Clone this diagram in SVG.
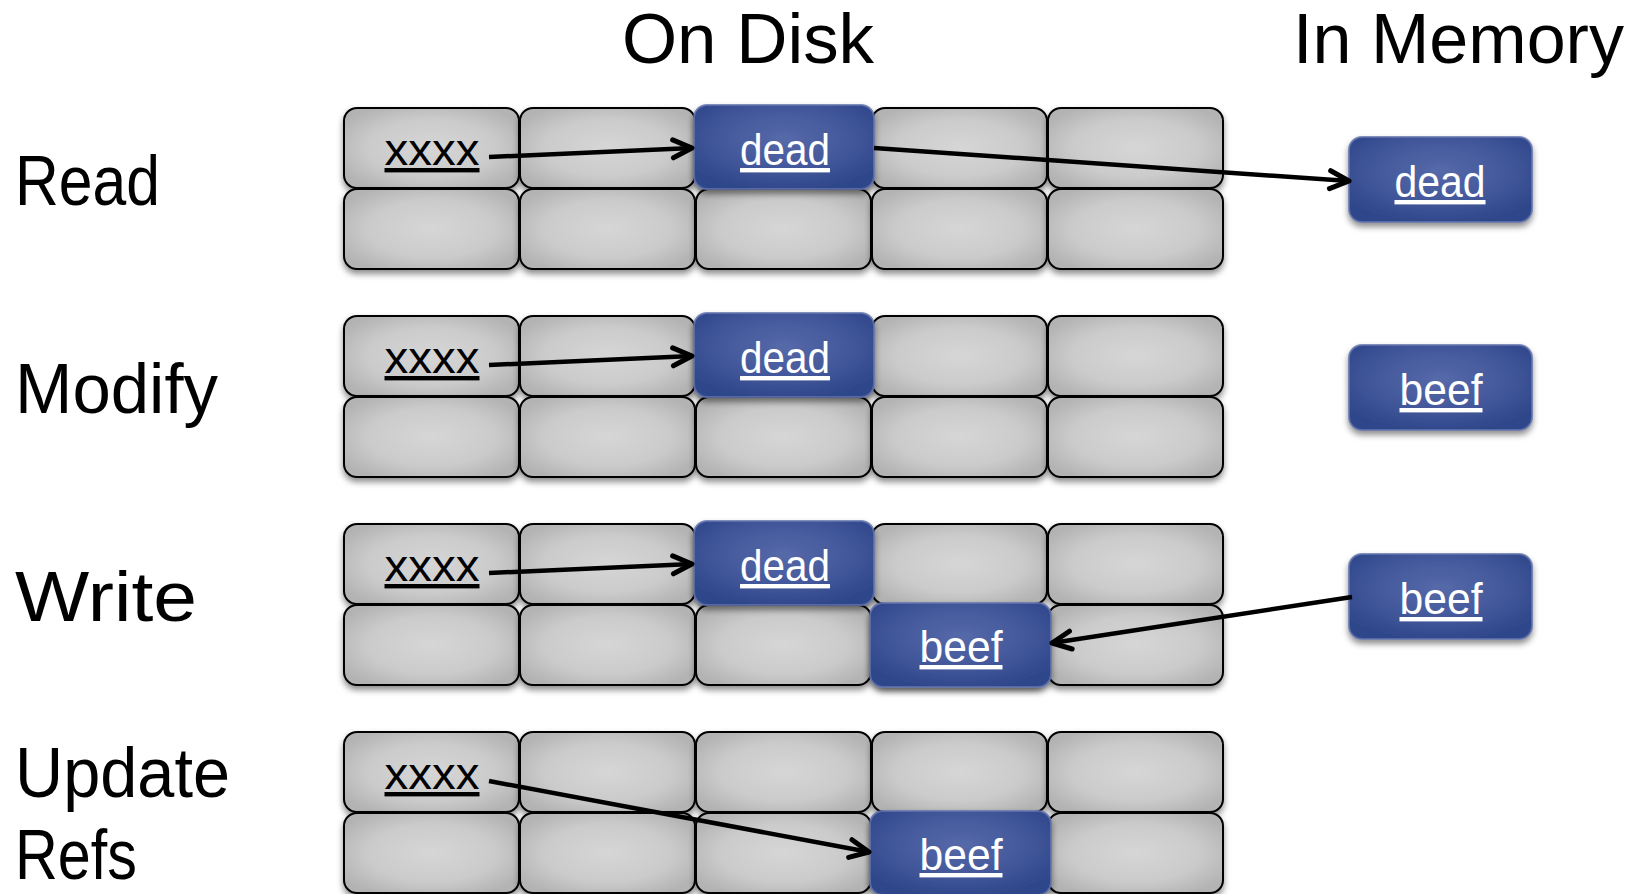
<svg xmlns="http://www.w3.org/2000/svg" width="1645" height="894" viewBox="0 0 1645 894">
<defs>
<radialGradient id="gGray" cx="50%" cy="50%" r="60%">
<stop offset="0" stop-color="#d6d6d6"/>
<stop offset="0.6" stop-color="#cbcbcb"/>
<stop offset="1" stop-color="#b3b3b3"/>
</radialGradient>
<radialGradient id="gBlue" cx="50%" cy="40%" r="62%">
<stop offset="0" stop-color="#5669a9"/>
<stop offset="0.6" stop-color="#42579a"/>
<stop offset="1" stop-color="#2f478b"/>
</radialGradient>
<filter id="sh" x="-10%" y="-10%" width="120%" height="135%">
<feDropShadow dx="0" dy="4" stdDeviation="3" flood-color="#000" flood-opacity="0.45"/>
</filter>
<marker id="arr" viewBox="-24 -12 28 24" refX="0" refY="0" markerWidth="28" markerHeight="24" markerUnits="userSpaceOnUse" orient="auto">
<path d="M-19,-9 L0,0 L-19,9" fill="none" stroke="#000" stroke-width="5" stroke-linecap="round" stroke-linejoin="round"/>
</marker>
</defs>
<style>
.cell{fill:url(#gGray);stroke:#000;stroke-width:2;filter:url(#sh)}
.blue{fill:url(#gBlue);stroke:#6474ad;stroke-opacity:0.8;stroke-width:2;filter:url(#sh)}
.t{font-family:"Liberation Sans",Arial,sans-serif;text-anchor:middle;font-size:44px;text-decoration:underline}
.k{fill:#000}
.w{fill:#fff}
.big{font-family:"Liberation Sans",Arial,sans-serif;font-size:70px;fill:#000}
.conn line{stroke:#000;stroke-width:4.5;fill:none;marker-end:url(#arr)}
</style>
<rect width="1645" height="894" fill="#fff"/>

<!-- Titles and row labels -->
<text class="big" x="622" y="63" textLength="252" lengthAdjust="spacingAndGlyphs">On Disk</text>
<text class="big" x="1293" y="63" textLength="331" lengthAdjust="spacingAndGlyphs">In Memory</text>
<text class="big" x="15" y="205" textLength="145" lengthAdjust="spacingAndGlyphs">Read</text>
<text class="big" x="15" y="413" textLength="203" lengthAdjust="spacingAndGlyphs">Modify</text>
<text class="big" x="15" y="621" textLength="182" lengthAdjust="spacingAndGlyphs">Write</text>
<text class="big" x="15" y="797" textLength="215" lengthAdjust="spacingAndGlyphs">Update</text>
<text class="big" x="15" y="879" font-size="66" textLength="122" lengthAdjust="spacingAndGlyphs">Refs</text>

<!-- Row 1: Read -->
<g id="read-a1"><rect class="cell" x="344" y="108" width="175" height="80" rx="13"/><text class="t k" x="432" y="165" textLength="95" lengthAdjust="spacingAndGlyphs">xxxx</text></g>
<g id="read-a2"><rect class="cell" x="520" y="108" width="175" height="80" rx="13"/></g>
<g id="read-a3"><rect class="cell" x="696" y="108" width="175" height="80" rx="13"/></g>
<g id="read-a4"><rect class="cell" x="872" y="108" width="175" height="80" rx="13"/></g>
<g id="read-a5"><rect class="cell" x="1048" y="108" width="175" height="80" rx="13"/></g>
<g id="read-b1"><rect class="cell" x="344" y="189" width="175" height="80" rx="13"/></g>
<g id="read-b2"><rect class="cell" x="520" y="189" width="175" height="80" rx="13"/></g>
<g id="read-b3"><rect class="cell" x="696" y="189" width="175" height="80" rx="13"/></g>
<g id="read-b4"><rect class="cell" x="872" y="189" width="175" height="80" rx="13"/></g>
<g id="read-b5"><rect class="cell" x="1048" y="189" width="175" height="80" rx="13"/></g>
<g id="read-dead"><rect class="blue" x="694" y="105" width="180" height="84" rx="13"/><text class="t w" x="785" y="165" textLength="90" lengthAdjust="spacingAndGlyphs">dead</text></g>
<g id="read-mem"><rect class="blue" x="1349" y="137" width="183" height="85" rx="13"/><text class="t w" x="1440" y="197" textLength="91" lengthAdjust="spacingAndGlyphs">dead</text></g>

<!-- Row 2: Modify -->
<g id="mod-a1"><rect class="cell" x="344" y="316" width="175" height="80" rx="13"/><text class="t k" x="432" y="373" textLength="95" lengthAdjust="spacingAndGlyphs">xxxx</text></g>
<g id="mod-a2"><rect class="cell" x="520" y="316" width="175" height="80" rx="13"/></g>
<g id="mod-a3"><rect class="cell" x="696" y="316" width="175" height="80" rx="13"/></g>
<g id="mod-a4"><rect class="cell" x="872" y="316" width="175" height="80" rx="13"/></g>
<g id="mod-a5"><rect class="cell" x="1048" y="316" width="175" height="80" rx="13"/></g>
<g id="mod-b1"><rect class="cell" x="344" y="397" width="175" height="80" rx="13"/></g>
<g id="mod-b2"><rect class="cell" x="520" y="397" width="175" height="80" rx="13"/></g>
<g id="mod-b3"><rect class="cell" x="696" y="397" width="175" height="80" rx="13"/></g>
<g id="mod-b4"><rect class="cell" x="872" y="397" width="175" height="80" rx="13"/></g>
<g id="mod-b5"><rect class="cell" x="1048" y="397" width="175" height="80" rx="13"/></g>
<g id="mod-dead"><rect class="blue" x="694" y="313" width="180" height="84" rx="13"/><text class="t w" x="785" y="373" textLength="90" lengthAdjust="spacingAndGlyphs">dead</text></g>
<g id="mod-mem"><rect class="blue" x="1349" y="345" width="183" height="85" rx="13"/><text class="t w" x="1441" y="405" textLength="83" lengthAdjust="spacingAndGlyphs">beef</text></g>

<!-- Row 3: Write -->
<g id="wr-a1"><rect class="cell" x="344" y="524" width="175" height="80" rx="13"/><text class="t k" x="432" y="581" textLength="95" lengthAdjust="spacingAndGlyphs">xxxx</text></g>
<g id="wr-a2"><rect class="cell" x="520" y="524" width="175" height="80" rx="13"/></g>
<g id="wr-a3"><rect class="cell" x="696" y="524" width="175" height="80" rx="13"/></g>
<g id="wr-a4"><rect class="cell" x="872" y="524" width="175" height="80" rx="13"/></g>
<g id="wr-a5"><rect class="cell" x="1048" y="524" width="175" height="80" rx="13"/></g>
<g id="wr-b1"><rect class="cell" x="344" y="605" width="175" height="80" rx="13"/></g>
<g id="wr-b2"><rect class="cell" x="520" y="605" width="175" height="80" rx="13"/></g>
<g id="wr-b3"><rect class="cell" x="696" y="605" width="175" height="80" rx="13"/></g>
<g id="wr-b4"><rect class="cell" x="872" y="605" width="175" height="80" rx="13"/></g>
<g id="wr-b5"><rect class="cell" x="1048" y="605" width="175" height="80" rx="13"/></g>
<g id="wr-dead"><rect class="blue" x="694" y="521" width="180" height="84" rx="13"/><text class="t w" x="785" y="581" textLength="90" lengthAdjust="spacingAndGlyphs">dead</text></g>
<g id="wr-beef"><rect class="blue" x="870" y="603" width="181" height="84" rx="13"/><text class="t w" x="961" y="662" textLength="83" lengthAdjust="spacingAndGlyphs">beef</text></g>
<g id="wr-mem"><rect class="blue" x="1349" y="554" width="183" height="85" rx="13"/><text class="t w" x="1441" y="614" textLength="83" lengthAdjust="spacingAndGlyphs">beef</text></g>

<!-- Row 4: Update Refs -->
<g id="up-a1"><rect class="cell" x="344" y="732" width="175" height="80" rx="13"/><text class="t k" x="432" y="789" textLength="95" lengthAdjust="spacingAndGlyphs">xxxx</text></g>
<g id="up-a2"><rect class="cell" x="520" y="732" width="175" height="80" rx="13"/></g>
<g id="up-a3"><rect class="cell" x="696" y="732" width="175" height="80" rx="13"/></g>
<g id="up-a4"><rect class="cell" x="872" y="732" width="175" height="80" rx="13"/></g>
<g id="up-a5"><rect class="cell" x="1048" y="732" width="175" height="80" rx="13"/></g>
<g id="up-b1"><rect class="cell" x="344" y="813" width="175" height="80" rx="13"/></g>
<g id="up-b2"><rect class="cell" x="520" y="813" width="175" height="80" rx="13"/></g>
<g id="up-b3"><rect class="cell" x="696" y="813" width="175" height="80" rx="13"/></g>
<g id="up-b4"><rect class="cell" x="872" y="813" width="175" height="80" rx="13"/></g>
<g id="up-b5"><rect class="cell" x="1048" y="813" width="175" height="80" rx="13"/></g>
<g id="up-beef"><rect class="blue" x="870" y="811" width="181" height="84" rx="13"/><text class="t w" x="961" y="870" textLength="83" lengthAdjust="spacingAndGlyphs">beef</text></g>

<!-- Connectors -->
<g id="connectors" class="conn">
<line x1="489" y1="157" x2="692" y2="148"/>
<line x1="874" y1="148" x2="1349" y2="181"/>
<line x1="489" y1="365" x2="692" y2="356"/>
<line x1="489" y1="573" x2="692" y2="564"/>
<line x1="1352" y1="597" x2="1052" y2="643"/>
<line x1="489" y1="781" x2="869" y2="852"/>
</g>
</svg>
